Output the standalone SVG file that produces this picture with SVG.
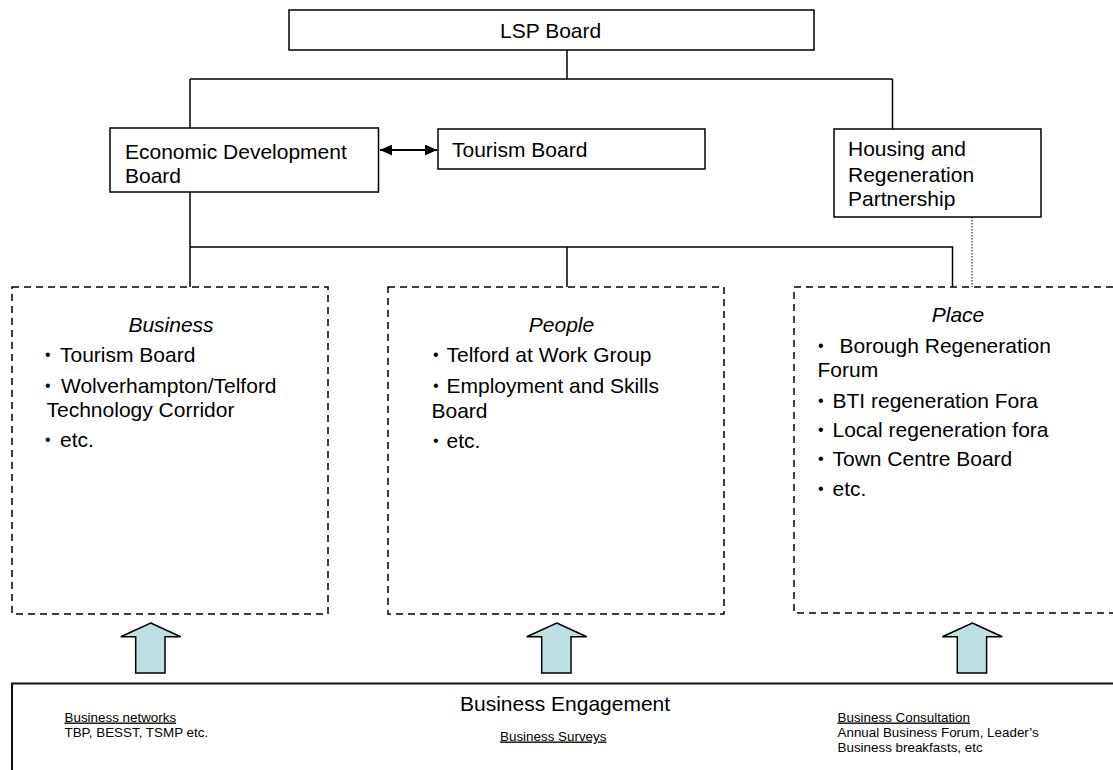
<svg xmlns="http://www.w3.org/2000/svg" width="1113" height="770" viewBox="0 0 1113 770">
<style>
  text { font-family: "Liberation Sans", Arial, sans-serif; fill: #000; }
  .t { font-size: 21px; }
  .b { font-size: 16px; }
  .i { font-size: 21px; font-style: italic; }
  .s { font-size: 13.4px; }
  .u { text-decoration: underline; }
  .box { fill: #fff; stroke: #000; stroke-width: 1.5; }
  .dash { fill: none; stroke: #000; stroke-width: 1.5; stroke-dasharray: 7 5; }
  .ln { fill: none; stroke: #000; stroke-width: 1.5; }
  .dot { fill: none; stroke: #000; stroke-width: 1; stroke-dasharray: 1.5 1.5; }
  .barrow { fill: #bde0e3; stroke: #000; stroke-width: 1.5; stroke-linejoin: miter; }
</style>
<defs>
  <marker id="ah" viewBox="0 0 12 11" refX="12" refY="5.5" markerWidth="12" markerHeight="11" markerUnits="userSpaceOnUse" orient="auto-start-reverse">
    <path d="M0,0 L12,5.5 L0,11 z" fill="#000"/>
  </marker>
</defs>
<rect width="1113" height="770" fill="#fff"/>

<g id="connectors">
  <path class="ln" d="M567,50 V79 M190,79 H892.5 M190,79 V128 M892.5,79 V129"/>
  <path class="ln" d="M190,192 V287 M190,247 H952.5 V287 M567,247 V287"/>
  <path class="dot" d="M972,217 V287"/>
  <path class="ln" style="stroke-width:2" d="M380,150 H437" marker-start="url(#ah)" marker-end="url(#ah)"/>
</g>

<g id="lsp-board">
  <rect class="box" x="289" y="10" width="525" height="40"/>
  <text class="t" x="500" y="38">LSP Board</text>
</g>

<g id="economic-development-board">
  <rect class="box" x="110" y="128" width="268.5" height="64"/>
  <text class="t" x="125" y="159">Economic Development</text>
  <text class="t" x="125" y="183">Board</text>
</g>

<g id="tourism-board">
  <rect class="box" x="438" y="129" width="267" height="40"/>
  <text class="t" x="452" y="157">Tourism Board</text>
</g>

<g id="housing-regeneration">
  <rect class="box" x="834" y="129" width="207" height="88"/>
  <text class="t" x="848" y="156">Housing and</text>
  <text class="t" x="848" y="181.5">Regeneration</text>
  <text class="t" x="848" y="206">Partnership</text>
</g>

<g id="business">
  <rect class="dash" x="12" y="287" width="316" height="327"/>
  <text class="i" x="171" y="331.5" text-anchor="middle">Business</text>
  <text class="t" x="45" y="361.5"><tspan class="b" dy="-2">•</tspan><tspan x="60" dy="2">Tourism Board</tspan></text>
  <text class="t" x="45" y="392.5"><tspan class="b" dy="-2">•</tspan><tspan x="61" dy="2">Wolverhampton/Telford</tspan></text>
  <text class="t" x="46.5" y="416.5">Technology Corridor</text>
  <text class="t" x="45" y="447"><tspan class="b" dy="-2">•</tspan><tspan x="60" dy="2">etc.</tspan></text>
</g>

<g id="people">
  <rect class="dash" x="388" y="287" width="336" height="327"/>
  <text class="i" x="561.5" y="331.5" text-anchor="middle">People</text>
  <text class="t" x="433" y="361.5"><tspan class="b" dy="-2">•</tspan><tspan x="446.5" dy="2">Telford at Work Group</tspan></text>
  <text class="t" x="433" y="392.5"><tspan class="b" dy="-2">•</tspan><tspan x="446.5" dy="2">Employment and Skills</tspan></text>
  <text class="t" x="431.5" y="418">Board</text>
  <text class="t" x="433" y="448"><tspan class="b" dy="-2">•</tspan><tspan x="446.5" dy="2">etc.</tspan></text>
</g>

<g id="place">
  <rect class="dash" x="794" y="287" width="340" height="326"/>
  <text class="i" x="958" y="321.5" text-anchor="middle">Place</text>
  <text class="t" x="818" y="353"><tspan class="b" dy="-2">•</tspan><tspan x="839.5" dy="2">Borough Regeneration</tspan></text>
  <text class="t" x="817.5" y="376.5">Forum</text>
  <text class="t" x="818" y="407.5"><tspan class="b" dy="-2">•</tspan><tspan x="832.5" dy="2">BTI regeneration Fora</tspan></text>
  <text class="t" x="818" y="436.5"><tspan class="b" dy="-2">•</tspan><tspan x="832.5" dy="2">Local regeneration fora</tspan></text>
  <text class="t" x="818" y="466"><tspan class="b" dy="-2">•</tspan><tspan x="832.5" dy="2">Town Centre Board</tspan></text>
  <text class="t" x="818" y="496"><tspan class="b" dy="-2">•</tspan><tspan x="832.5" dy="2">etc.</tspan></text>
</g>

<g id="arrow-business">
  <polygon class="barrow" points="150.7,623 180.7,636.7 165,636.7 165,673 135.7,673 135.7,636.7 120.7,636.7"/>
</g>
<g id="arrow-people">
  <polygon class="barrow" points="556.7,623 586.7,636.7 571,636.7 571,673 541.7,673 541.7,636.7 526.7,636.7"/>
</g>
<g id="arrow-place">
  <polygon class="barrow" points="972.3,623 1002.3,636.7 986.6,636.7 986.6,673 957.3,673 957.3,636.7 942.3,636.7"/>
</g>

<g id="business-engagement">
  <rect x="12" y="683.5" width="1120" height="120" fill="#fff" stroke="#111" stroke-width="2"/>
  <text class="t" x="460" y="710.5">Business Engagement</text>
  <text class="s u" x="64.5" y="721.5">Business networks</text>
  <text class="s" x="64.5" y="736.5">TBP, BESST, TSMP etc.</text>
  <text class="s u" x="500" y="740.5">Business Surveys</text>
  <text class="s u" x="837.5" y="721.5">Business Consultation</text>
  <text class="s" x="837.5" y="736.5">Annual Business Forum, Leader’s</text>
  <text class="s" x="837.5" y="751.5">Business breakfasts, etc</text>
</g>
</svg>
